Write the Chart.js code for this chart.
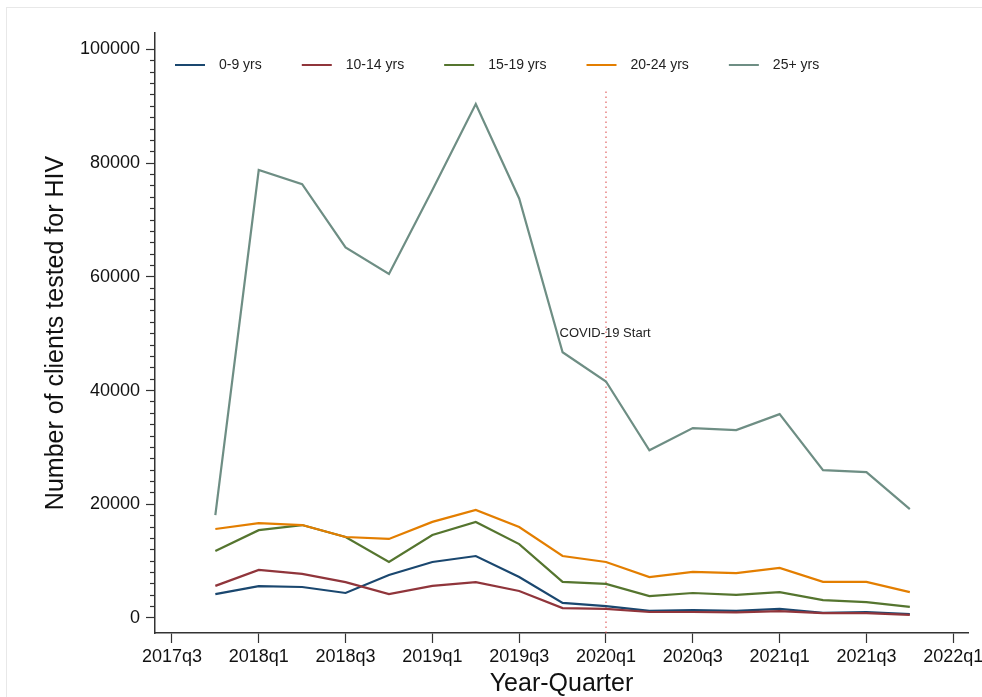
<!DOCTYPE html>
<html>
<head>
<meta charset="utf-8">
<title>HIV testing by age group</title>
<script src="https://cdn.jsdelivr.net/npm/chart.js@4.4.0/dist/chart.umd.min.js"></script>
<style>
  html, body { margin: 0; padding: 0; background: #fff; }
  #wrap { position: relative; width: 982px; height: 697px; overflow: hidden; }
  #frame { position: absolute; left: 6px; top: 7px; width: 1000px; height: 720px; border: 1px solid #e8e8e8; }
  canvas { position: absolute; left: 0; top: 0; }
</style>
</head>
<body>
<div id="wrap">
  <div id="frame"></div>
  <canvas id="chart" width="982" height="697"></canvas>
</div>
<script>
// quarters on the axis, and the quarters that have data
const quarters = ['2017q3', '2017q4', '2018q1', '2018q2', '2018q3', '2018q4', '2019q1', '2019q2', '2019q3',
    '2019q4', '2020q1', '2020q2', '2020q3', '2020q4', '2021q1', '2021q2', '2021q3', '2021q4', '2022q1'];
const dataQuarters = quarters.slice(1, 18);
const xTickLabels = ['2017q3', '2018q1', '2018q3', '2019q1', '2019q3', '2020q1', '2020q3', '2021q1', '2021q3', '2022q1'];
const yTicks = [0, 20000, 40000, 60000, 80000, 100000];
const yMinorStep = 2000;

const ageGroups = ['0-9 yrs', '10-14 yrs', '15-19 yrs', '20-24 yrs', '25+ yrs'];
const age0to9   = [4200, 5600, 5450, 4400, 7550, 9850, 10900, 7200, 2650, 2100, 1250, 1400, 1250, 1600, 900, 1050, 700];
const age10to14 = [5650, 8450, 7750, 6300, 4200, 5650, 6300, 4750, 1750, 1600, 1050, 1050, 1000, 1200, 850, 850, 550];
const age15to19 = [11800, 15450, 16350, 14250, 9850, 14600, 16900, 13000, 6350, 6000, 3850, 4400, 4050, 4550, 3150, 2800, 1950];
const age20to24 = [15650, 16700, 16350, 14250, 13900, 16900, 19000, 16000, 10900, 9850, 7200, 8100, 7900, 8800, 6350, 6350, 4550];
const age25plus = [18100, 78800, 76300, 65200, 60500, 75300, 90400, 73800, 46750, 41600, 29500, 33400, 33050, 35850, 26000, 25650, 19150];

const covidQuarter = '2020q1';
const covidLineTop = 92700;
const covidLabel = 'COVID-19 Start';
const covidLabelAt = { x: 8.93, y: 50000 };

const seriesValues = [age0to9, age10to14, age15to19, age20to24, age25plus];
const seriesColors = ['#1a476f', '#90353b', '#55752f', '#e37e00', '#6e8e84'];

const FONT = '"Liberation Sans", Arial, Helvetica, sans-serif';
const AXIS = '#333333';
const yMin = -2640, yMax = 102900;

const qIndex = q => quarters.indexOf(q);

// minor tick values between the labelled ones
const yMinorTicks = [];
for (let v = yMinorStep; v < yTicks[yTicks.length - 1]; v += yMinorStep) {
    if (!yTicks.includes(v)) yMinorTicks.push(v);
}

const datasets = seriesValues.map((vals, i) => ({
    label: ageGroups[i],
    data: vals.map((v, j) => ({ x: qIndex(dataQuarters[j]), y: v })),
    borderColor: seriesColors[i],
    borderWidth: 2.2,
    pointRadius: 0,
    tension: 0,
    fill: false,
    order: ageGroups.length - i
}));

datasets.push({
    label: covidLabel,
    data: [{ x: qIndex(covidQuarter), y: yMin }, { x: qIndex(covidQuarter), y: covidLineTop }],
    borderColor: 'rgba(220, 70, 70, 0.85)',
    borderWidth: 1.2,
    borderDash: [1.5, 3.5],
    pointRadius: 0,
    order: 10,
    isMarker: true
});

// covid text label
const covidText = {
    id: 'covidText',
    afterDatasetsDraw(chart) {
        const { ctx, scales } = chart;
        ctx.save();
        ctx.font = '13px ' + FONT;
        ctx.fillStyle = '#222';
        ctx.textAlign = 'left';
        ctx.textBaseline = 'middle';
        ctx.fillText(covidLabel, scales.x.getPixelForValue(covidLabelAt.x), scales.y.getPixelForValue(covidLabelAt.y));
        ctx.restore();
    }
};

// legend inside the plot, one row
const insideLegend = {
    id: 'insideLegend',
    afterDraw(chart) {
        const { ctx, chartArea } = chart;
        ctx.save();
        ctx.font = '14px ' + FONT;
        ctx.textBaseline = 'middle';
        ctx.textAlign = 'left';
        let x = chartArea.left + 20;
        const y = chartArea.top + 32;
        chart.data.datasets.forEach(ds => {
            if (ds.isMarker) return;
            ctx.strokeStyle = ds.borderColor;
            ctx.lineWidth = 2;
            ctx.beginPath();
            ctx.moveTo(x, y);
            ctx.lineTo(x + 30, y);
            ctx.stroke();
            ctx.fillStyle = '#222';
            ctx.fillText(ds.label, x + 44, y);
            x += 44 + ctx.measureText(ds.label).width + 40;
        });
        ctx.restore();
    }
};

const ctx = document.getElementById('chart').getContext('2d');
const chart = new Chart(ctx, {
    type: 'line',
    data: { datasets: datasets },
    plugins: [covidText, insideLegend],
    options: {
        responsive: false,
        animation: false,
        layout: { padding: { left: 0, top: 33, right: 14, bottom: 0 } },
        plugins: {
            legend: { display: false },
            tooltip: { enabled: false }
        },
        scales: {
            x: {
                type: 'linear',
                min: -0.39,
                max: 18.34,
                afterBuildTicks: axis => {
                    axis.ticks = xTickLabels.map(q => ({ value: qIndex(q) }));
                },
                afterFit: axis => {
                    axis.height = 64;
                    axis.paddingLeft = 0;
                    axis.paddingRight = 0;
                },
                ticks: {
                    autoSkip: false,
                    maxRotation: 0,
                    padding: 3,
                    color: '#111',
                    font: { family: FONT, size: 18 },
                    callback: v => quarters[v]
                },
                grid: { drawOnChartArea: false, drawTicks: true, tickLength: 10, tickColor: AXIS, tickWidth: 1.2 },
                border: { display: true, color: AXIS, width: 1.5 },
                title: {
                    display: true,
                    text: 'Year-Quarter',
                    color: '#111',
                    font: { family: FONT, size: 25, lineHeight: 1 },
                    padding: { top: 0, bottom: 0 }
                }
            },
            y: {
                type: 'linear',
                position: 'left',
                weight: 1,
                min: yMin,
                max: yMax,
                afterBuildTicks: axis => {
                    axis.ticks = yTicks.map(v => ({ value: v }));
                },
                afterFit: axis => {
                    axis.width = 155;
                    axis.paddingTop = 0;
                    axis.paddingBottom = 0;
                },
                ticks: {
                    padding: 6,
                    color: '#111',
                    font: { family: FONT, size: 18 },
                    callback: v => String(v)
                },
                grid: { drawOnChartArea: false, drawTicks: true, tickLength: 9, tickColor: AXIS, tickWidth: 1.2 },
                border: { display: true, color: AXIS, width: 1.5 },
                title: {
                    display: true,
                    text: 'Number of clients tested for HIV',
                    color: '#111',
                    font: { family: FONT, size: 25, lineHeight: 1 },
                    padding: { top: 44, bottom: 0 }
                }
            },
            yMinor: {
                type: 'linear',
                position: 'left',
                weight: 0,
                min: yMin,
                max: yMax,
                afterBuildTicks: axis => {
                    axis.ticks = yMinorTicks.map(v => ({ value: v }));
                },
                afterFit: axis => {
                    axis.width = 0;
                    axis.paddingTop = 0;
                    axis.paddingBottom = 0;
                },
                ticks: { display: false },
                grid: { drawOnChartArea: false, drawTicks: true, tickLength: 5, tickColor: AXIS, tickWidth: 1.2 },
                border: { display: false }
            }
        }
    }
});
</script>
</body>
</html>
